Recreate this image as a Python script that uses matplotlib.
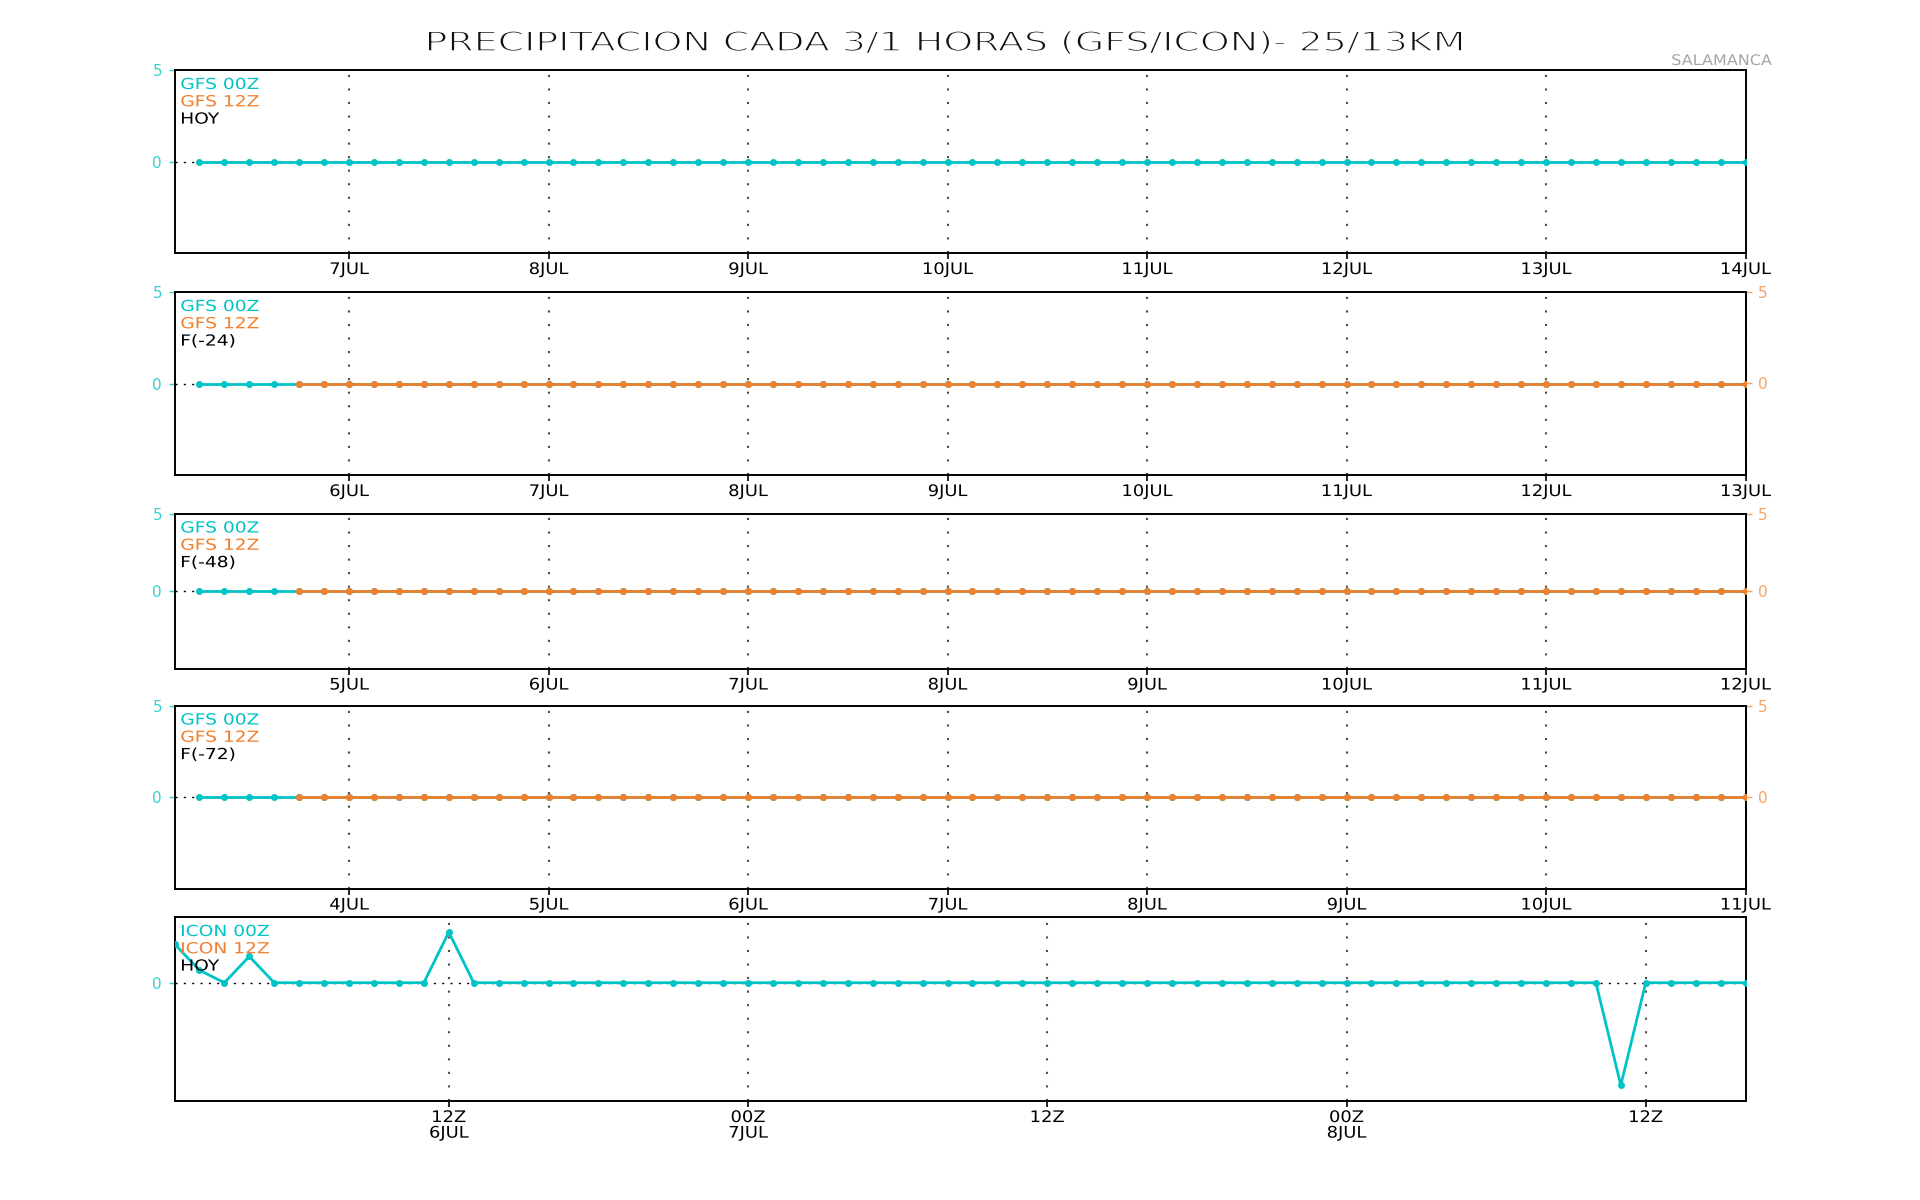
import numpy as np
import pandas as pd
import matplotlib
matplotlib.use("Agg")
import matplotlib.pyplot as plt
from matplotlib.patheffects import AbstractPathEffect
from matplotlib.transforms import Affine2D

# ---------------------------------------------------------------------------
# Data
# ---------------------------------------------------------------------------
title = "PRECIPITACION CADA 3/1 HORAS (GFS/ICON)- 25/13KM"
station = "SALAMANCA"

run_labels = ["HOY", "F(-24)", "F(-48)", "F(-72)"]

# first valid time of each GFS 00Z series (3-hourly)
gfs00_start = ["2024-07-06 06:00", "2024-07-05 06:00", "2024-07-04 06:00", "2024-07-03 06:00"]
# first valid time of each GFS 12Z series (3-hourly)
gfs12_start = [None, "2024-07-05 18:00", "2024-07-04 18:00", "2024-07-03 18:00"]

day_labels_hoy = ["7JUL", "8JUL", "9JUL", "10JUL", "11JUL", "12JUL", "13JUL", "14JUL"]
day_labels_f24 = ["6JUL", "7JUL", "8JUL", "9JUL", "10JUL", "11JUL", "12JUL", "13JUL"]
day_labels_f48 = ["5JUL", "6JUL", "7JUL", "8JUL", "9JUL", "10JUL", "11JUL", "12JUL"]
day_labels_f72 = ["4JUL", "5JUL", "6JUL", "7JUL", "8JUL", "9JUL", "10JUL", "11JUL"]

# GFS 00Z precipitation (mm / 3 h)
gfs00_hoy = [
    0.0, 0.0, 0.0, 0.0, 0.0, 0.0, 0.0, 0.0, 0.0,
    0.0, 0.0, 0.0, 0.0, 0.0, 0.0, 0.0, 0.0, 0.0,
    0.0, 0.0, 0.0, 0.0, 0.0, 0.0, 0.0, 0.0, 0.0,
    0.0, 0.0, 0.0, 0.0, 0.0, 0.0, 0.0, 0.0, 0.0,
    0.0, 0.0, 0.0, 0.0, 0.0, 0.0, 0.0, 0.0, 0.0,
    0.0, 0.0, 0.0, 0.0, 0.0, 0.0, 0.0, 0.0, 0.0,
    0.0, 0.0, 0.0, 0.0, 0.0, 0.0, 0.0, 0.0, 0.0,
]
gfs00_f24 = [
    0.0, 0.0, 0.0, 0.0, 0.0, 0.0, 0.0, 0.0, 0.0,
    0.0, 0.0, 0.0, 0.0, 0.0, 0.0, 0.0, 0.0, 0.0,
    0.0, 0.0, 0.0, 0.0, 0.0, 0.0, 0.0, 0.0, 0.0,
    0.0, 0.0, 0.0, 0.0, 0.0, 0.0, 0.0, 0.0, 0.0,
    0.0, 0.0, 0.0, 0.0, 0.0, 0.0, 0.0, 0.0, 0.0,
    0.0, 0.0, 0.0, 0.0, 0.0, 0.0, 0.0, 0.0, 0.0,
    0.0, 0.0, 0.0, 0.0, 0.0, 0.0, 0.0, 0.0, 0.0,
]
gfs00_f48 = [
    0.0, 0.0, 0.0, 0.0, 0.0, 0.0, 0.0, 0.0, 0.0,
    0.0, 0.0, 0.0, 0.0, 0.0, 0.0, 0.0, 0.0, 0.0,
    0.0, 0.0, 0.0, 0.0, 0.0, 0.0, 0.0, 0.0, 0.0,
    0.0, 0.0, 0.0, 0.0, 0.0, 0.0, 0.0, 0.0, 0.0,
    0.0, 0.0, 0.0, 0.0, 0.0, 0.0, 0.0, 0.0, 0.0,
    0.0, 0.0, 0.0, 0.0, 0.0, 0.0, 0.0, 0.0, 0.0,
    0.0, 0.0, 0.0, 0.0, 0.0, 0.0, 0.0, 0.0, 0.0,
]
gfs00_f72 = [
    0.0, 0.0, 0.0, 0.0, 0.0, 0.0, 0.0, 0.0, 0.0,
    0.0, 0.0, 0.0, 0.0, 0.0, 0.0, 0.0, 0.0, 0.0,
    0.0, 0.0, 0.0, 0.0, 0.0, 0.0, 0.0, 0.0, 0.0,
    0.0, 0.0, 0.0, 0.0, 0.0, 0.0, 0.0, 0.0, 0.0,
    0.0, 0.0, 0.0, 0.0, 0.0, 0.0, 0.0, 0.0, 0.0,
    0.0, 0.0, 0.0, 0.0, 0.0, 0.0, 0.0, 0.0, 0.0,
    0.0, 0.0, 0.0, 0.0, 0.0, 0.0, 0.0, 0.0, 0.0,
]

# GFS 12Z precipitation (mm / 3 h)
gfs12_f24 = [
    0.0, 0.0, 0.0, 0.0, 0.0, 0.0, 0.0, 0.0, 0.0, 0.0,
    0.0, 0.0, 0.0, 0.0, 0.0, 0.0, 0.0, 0.0, 0.0, 0.0,
    0.0, 0.0, 0.0, 0.0, 0.0, 0.0, 0.0, 0.0, 0.0, 0.0,
    0.0, 0.0, 0.0, 0.0, 0.0, 0.0, 0.0, 0.0, 0.0, 0.0,
    0.0, 0.0, 0.0, 0.0, 0.0, 0.0, 0.0, 0.0, 0.0, 0.0,
    0.0, 0.0, 0.0, 0.0, 0.0, 0.0, 0.0, 0.0, 0.0,
]
gfs12_f48 = [
    0.0, 0.0, 0.0, 0.0, 0.0, 0.0, 0.0, 0.0, 0.0, 0.0,
    0.0, 0.0, 0.0, 0.0, 0.0, 0.0, 0.0, 0.0, 0.0, 0.0,
    0.0, 0.0, 0.0, 0.0, 0.0, 0.0, 0.0, 0.0, 0.0, 0.0,
    0.0, 0.0, 0.0, 0.0, 0.0, 0.0, 0.0, 0.0, 0.0, 0.0,
    0.0, 0.0, 0.0, 0.0, 0.0, 0.0, 0.0, 0.0, 0.0, 0.0,
    0.0, 0.0, 0.0, 0.0, 0.0, 0.0, 0.0, 0.0, 0.0,
]
gfs12_f72 = [
    0.0, 0.0, 0.0, 0.0, 0.0, 0.0, 0.0, 0.0, 0.0, 0.0,
    0.0, 0.0, 0.0, 0.0, 0.0, 0.0, 0.0, 0.0, 0.0, 0.0,
    0.0, 0.0, 0.0, 0.0, 0.0, 0.0, 0.0, 0.0, 0.0, 0.0,
    0.0, 0.0, 0.0, 0.0, 0.0, 0.0, 0.0, 0.0, 0.0, 0.0,
    0.0, 0.0, 0.0, 0.0, 0.0, 0.0, 0.0, 0.0, 0.0, 0.0,
    0.0, 0.0, 0.0, 0.0, 0.0, 0.0, 0.0, 0.0, 0.0,
]

# ICON 00Z hourly precipitation (mm / 1 h), from 6JUL 01Z to 8JUL 16Z
icon_start = "2024-07-06 01:00"
icon00_hoy = [
    0.59, 0.19, 0.0, 0.40, 0.0, 0.0, 0.0, 0.0, 0.0, 0.0, 0.0, 0.77,   # 6JUL 01Z-12Z
    0.0, 0.0, 0.0, 0.0, 0.0, 0.0, 0.0, 0.0, 0.0, 0.0, 0.0, 0.0,       # 6JUL 13Z-7JUL 00Z
    0.0, 0.0, 0.0, 0.0, 0.0, 0.0, 0.0, 0.0, 0.0, 0.0, 0.0, 0.0,       # 7JUL 01Z-12Z
    0.0, 0.0, 0.0, 0.0, 0.0, 0.0, 0.0, 0.0, 0.0, 0.0, 0.0, 0.0,       # 7JUL 13Z-8JUL 00Z
    0.0, 0.0, 0.0, 0.0, 0.0, 0.0, 0.0, 0.0, 0.0, 0.0, -1.56, 0.0,     # 8JUL 01Z-12Z
    0.0, 0.0, 0.0, 0.0,                                               # 8JUL 13Z-16Z
]
icon_ticks = ["2024-07-06 12:00", "2024-07-07 00:00", "2024-07-07 12:00",
              "2024-07-08 00:00", "2024-07-08 12:00"]
icon_tick_labels = ["12Z\n6JUL", "00Z\n7JUL", "12Z", "00Z\n8JUL", "12Z"]
icon_legend = ["ICON 00Z", "ICON 12Z", "HOY"]

# ---------------------------------------------------------------------------
# Styling
# ---------------------------------------------------------------------------
CYAN = "#00C3C6"
CYAN_TXT = "#3ACFD0"
ORANGE = "#F0802E"
ORANGE_TXT = "#F4A466"
GRID = "#4a4a4a"

plt.rcParams["font.family"] = ["DejaVu Sans"]


class HStretch(AbstractPathEffect):
    """Widen glyphs horizontally about the left, centre or right of the text,
    optionally thinning the strokes with a white outline."""

    def __init__(self, sx, anchor="center", thin=0.0):
        super().__init__((0, 0))
        self._sx = sx
        self._anchor = anchor
        self._thin = thin

    def draw_path(self, renderer, gc, tpath, affine, rgbFace=None):
        ext = tpath.get_extents(affine)
        cx = {"left": ext.x0, "center": 0.5 * (ext.x0 + ext.x1), "right": ext.x1}[self._anchor]
        t = affine + Affine2D().translate(-cx, 0).scale(self._sx, 1).translate(cx, 0)
        renderer.draw_path(gc, tpath, t, rgbFace)
        if self._thin > 0:
            gc2 = renderer.new_gc()
            gc2.copy_properties(gc)
            gc2.set_foreground("white")
            gc2.set_linewidth(self._thin)
            renderer.draw_path(gc2, tpath, t, None)
            gc2.restore()


W, H = 1920, 1200
fig = plt.figure(figsize=(W / 100, H / 100), dpi=100)
fig.patch.set_facecolor("white")

X0, X1 = 174.5, 1745.5


def add_panel(top, bottom):
    return fig.add_axes([X0 / W, 1 - bottom / H, (X1 - X0) / W, (bottom - top) / H])


def style_axes(ax):
    for sp in ax.spines.values():
        sp.set_color("black")
        sp.set_linewidth(1.4)
    ax.tick_params(axis="x", direction="out", length=4, width=1.2, colors="black",
                   labelsize=11.5, pad=2.5)
    ax.tick_params(axis="y", direction="out", length=4, width=1.0, colors=CYAN_TXT,
                   labelsize=11, pad=5)
    ax.xaxis.grid(True, color=GRID, linestyle=(0, (1, 5.5)), linewidth=1.5)
    ax.set_axisbelow(True)
    ax.axhline(0, color="black", linestyle=(0, (1.5, 4.5)), linewidth=1.0, zorder=1)
    for lab in ax.get_xticklabels():
        lab.set_path_effects([HStretch(1.12, "center")])


def legend_block(top, lines, colors):
    for i, (txt, col) in enumerate(zip(lines, colors)):
        t = fig.text(180.5 / W, 1 - (top + 14.5 + 17.3 * i) / H, txt, color=col,
                     fontsize=11, ha="left", va="center")
        t.set_path_effects([HStretch(1.22, "left")])


gfs00_series = [gfs00_hoy, gfs00_f24, gfs00_f48, gfs00_f72]
gfs12_series = [None, gfs12_f24, gfs12_f48, gfs12_f72]
day_labels = [day_labels_hoy, day_labels_f24, day_labels_f48, day_labels_f72]
panel_rows = [(70, 253), (292, 475), (513.5, 668.5), (705.5, 888.5)]

for k in range(4):
    top, bottom = panel_rows[k]
    ax = add_panel(top, bottom)
    t00 = pd.date_range(gfs00_start[k], periods=len(gfs00_series[k]), freq="3h")
    ax.plot(t00, gfs00_series[k], color=CYAN, linewidth=2.0, marker="o",
            markersize=4, zorder=3)
    if gfs12_series[k] is not None:
        t12 = pd.date_range(gfs12_start[k], periods=len(gfs12_series[k]), freq="3h")
        ax.plot(t12, gfs12_series[k], color=ORANGE, linewidth=2.0, marker="o",
                markersize=4, zorder=4)
        sec = ax.secondary_yaxis("right")
        sec.set_yticks([0, 5])
        sec.set_yticklabels(["0", "5"])
        sec.tick_params(direction="out", length=4, width=1.0, colors=ORANGE_TXT,
                        labelsize=11, pad=5)
        sec.spines["right"].set_color("black")
        sec.spines["right"].set_linewidth(1.4)
    first = t00[0] - pd.Timedelta(hours=3)
    last = t00[-1]
    ax.set_xlim(first, last)
    ax.set_ylim(-5, 5)
    ax.set_yticks([0, 5])
    ax.set_yticklabels(["0", "5"])
    days = pd.date_range(first.normalize() + pd.Timedelta(days=1), periods=8, freq="D")
    ax.set_xticks(days)
    ax.set_xticklabels(day_labels[k])
    style_axes(ax)
    legend_block(top, ["GFS 00Z", "GFS 12Z", run_labels[k]], [CYAN, ORANGE, "black"])

# ICON hourly panel
top, bottom = 917, 1101
ax = add_panel(top, bottom)
ti = pd.date_range(icon_start, periods=len(icon00_hoy), freq="1h")
ax.plot(ti, icon00_hoy, color=CYAN, linewidth=2.0, marker="o", markersize=4, zorder=3)
ax.set_xlim(ti[0], ti[-1])
ax.set_ylim(-1.8, 1.0)
ax.set_yticks([0])
ax.set_yticklabels(["0"])
ax.set_xticks(pd.to_datetime(icon_ticks))
ax.set_xticklabels(icon_tick_labels, linespacing=1.05)
style_axes(ax)
legend_block(top, icon_legend, [CYAN, ORANGE, "black"])

# Title and station name
tt = fig.text(944.5 / W, 1 - 44 / H, title, fontsize=19.5, ha="center", va="center",
              color="#111111")
tt.set_path_effects([HStretch(1.4, "center", thin=1.1)])
st = fig.text(1772 / W, 1 - 60.5 / H, station, fontsize=10.5, ha="right", va="center",
              color="#A6A6A6")
st.set_path_effects([HStretch(1.1, "right")])

fig.savefig("out.png", dpi=100, facecolor="white")
